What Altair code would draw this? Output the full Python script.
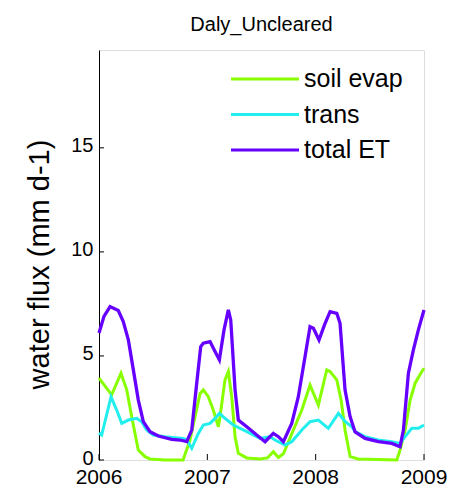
import altair as alt
import pandas as pd

# ---- data ----
series_names = ["soil evap", "trans", "total ET"]
series_colors = ["#88FF00", "#22EEEE", "#6600FF"]
x_tick_years = [2006, 2007, 2008, 2009]
y_tick_values = [0, 5, 10, 15]

soil_t = [2006.000, 2006.117, 2006.203, 2006.256, 2006.302, 2006.332, 2006.363, 2006.425,
          2006.471, 2006.609, 2006.776, 2006.840, 2006.886, 2006.933, 2006.963, 2007.009,
          2007.055, 2007.102, 2007.117, 2007.163, 2007.194, 2007.225, 2007.256, 2007.286,
          2007.364, 2007.487, 2007.554, 2007.609, 2007.656, 2007.702, 2007.794, 2007.872,
          2007.948, 2008.025, 2008.102, 2008.133, 2008.195, 2008.235, 2008.271, 2008.318,
          2008.394, 2008.749, 2008.779, 2008.826, 2008.872, 2008.918, 2008.980, 2009.000]
soil_v = [3.93, 3.13, 4.17, 3.37, 2.08, 1.28, 0.48, 0.16, 0.05, 0.0, 0.0, 0.96, 2.08, 3.2,
          3.37, 3.04, 2.4, 1.6, 2.08, 3.85, 4.25, 3.04, 1.12, 0.32, 0.1, 0.05, 0.1, 0.4, 0.12,
          0.3, 1.44, 2.4, 3.6, 2.64, 4.33, 4.25, 3.85, 2.88, 1.44, 0.16, 0.05, 0.0, 0.48, 1.44,
          2.88, 3.69, 4.25, 4.41]

trans_t = [2006.000, 2006.025, 2006.111, 2006.163, 2006.210, 2006.271, 2006.348, 2006.394,
           2006.440, 2006.501, 2006.609, 2006.778, 2006.810, 2006.856, 2006.917, 2006.963,
           2007.025, 2007.071, 2007.111, 2007.163, 2007.240, 2007.364, 2007.487, 2007.579,
           2007.625, 2007.717, 2007.779, 2007.872, 2007.948, 2008.025, 2008.117, 2008.210,
           2008.271, 2008.333, 2008.364, 2008.456, 2008.579, 2008.703, 2008.779, 2008.826,
           2008.887, 2008.948, 2009.000]
trans_v = [1.3, 1.2, 3.04, 2.4, 1.76, 1.92, 2.0, 1.84, 1.44, 1.2, 1.12, 1.04, 0.96, 0.56,
           1.28, 1.68, 1.76, 2.0, 2.24, 2.0, 1.68, 1.36, 1.04, 1.12, 0.96, 0.72, 0.88, 1.44,
           1.84, 1.92, 1.52, 2.24, 1.85, 1.6, 1.36, 1.12, 0.96, 0.88, 0.8, 1.12, 1.52, 1.52, 1.68]

et_t = [2006.000, 2006.046, 2006.102, 2006.178, 2006.224, 2006.271, 2006.317, 2006.363,
        2006.409, 2006.471, 2006.548, 2006.671, 2006.748, 2006.810, 2006.856, 2006.902,
        2006.939, 2006.963, 2007.025, 2007.071, 2007.111, 2007.154, 2007.194, 2007.216,
        2007.256, 2007.286, 2007.364, 2007.456, 2007.533, 2007.609, 2007.656, 2007.702,
        2007.779, 2007.840, 2007.902, 2007.948, 2007.979, 2008.031, 2008.087, 2008.133,
        2008.195, 2008.225, 2008.271, 2008.318, 2008.364, 2008.456, 2008.579, 2008.703,
        2008.779, 2008.810, 2008.856, 2008.902, 2008.948, 2009.000]
et_v = [6.1, 6.9, 7.37, 7.18, 6.65, 5.77, 4.33, 2.88, 1.84, 1.36, 1.15, 0.99, 0.96, 0.88,
        1.44, 3.69, 5.45, 5.61, 5.69, 5.21, 4.81, 6.25, 7.21, 6.73, 3.37, 1.92, 1.6, 1.2,
        0.88, 1.28, 1.12, 0.88, 1.76, 3.04, 4.97, 6.41, 6.33, 5.77, 6.57, 7.13, 7.05, 6.57,
        3.37, 2.08, 1.35, 1.04, 0.88, 0.8, 0.64, 1.44, 4.17, 5.29, 6.25, 7.21]

# ---- layout ----
W, H = 325, 410
X_DOM = [2006, 2009]
Y_DOM = [0, 19.7]
FONT = "Liberation Sans"

xs = alt.Scale(domain=X_DOM, nice=False, zero=False)
ys = alt.Scale(domain=Y_DOM, nice=False, zero=True)
cs = alt.Scale(domain=series_names, range=series_colors)

x_axis = alt.Axis(values=x_tick_years, labels=False, title=None, grid=False, tickSize=0,
                  domainColor="black")
y_axis = alt.Axis(values=y_tick_values, title="water flux (mm d-1)", grid=False, tickSize=0,
                  labelFontSize=20, labelPadding=6, labelOffset=-2, titleFontSize=29,
                  titleFontWeight="normal", titlePadding=16, titleY=214, domainColor="black",
                  labelColor="black", titleColor="black")


def line_layer(t, v, name, width=3):
    df = pd.DataFrame({"t": t, "v": v, "series": name})
    return alt.Chart(df).mark_line(strokeWidth=width).encode(
        x=alt.X("t:Q", scale=xs, axis=None),
        y=alt.Y("v:Q", scale=ys, axis=None),
        color=alt.Color("series:N", scale=cs, legend=None),
    )


soil = line_layer(soil_t, soil_v, "soil evap")
trans = line_layer(trans_t, trans_v, "trans")
et = line_layer(et_t, et_v, "total ET", width=3.3)

# inward ticks (MATLAB style); these layers also carry the axes
ytick_layer = alt.Chart(pd.DataFrame({"v": y_tick_values})).mark_rule(
    color="black", strokeWidth=1).encode(
    y=alt.Y("v:Q", scale=ys, axis=y_axis), x=alt.value(0), x2=alt.value(5))
xtick_df = pd.DataFrame({"t": x_tick_years, "label": [str(y) for y in x_tick_years]})
xtick_layer = alt.Chart(xtick_df).mark_rule(color="black", strokeWidth=1).encode(
    x=alt.X("t:Q", scale=xs, axis=x_axis), y=alt.value(H), y2=alt.value(H - 6))
xlabel_layer = alt.Chart(xtick_df).mark_text(
    align="center", baseline="top", fontSize=21, color="black", font=FONT).encode(
    x=alt.X("t:Q", scale=xs, axis=None), y=alt.value(H + 7), text="label:N")

# legend
leg_df = pd.DataFrame({"series": series_names})
leg_y = alt.Y("series:N", sort=series_names, axis=None,
              scale=alt.Scale(type="point", range=[29, 100], padding=0))
leg_rule = alt.Chart(leg_df).mark_rule(strokeWidth=3).encode(
    y=leg_y, x=alt.value(132), x2=alt.value(200),
    color=alt.Color("series:N", scale=cs, legend=None))
leg_text = alt.Chart(leg_df).mark_text(align="left", baseline="middle", fontSize=25,
                                       color="black", font=FONT).encode(
    y=leg_y, x=alt.value(205), text="series:N")

chart = alt.layer(soil, trans, et, ytick_layer, xtick_layer, xlabel_layer,
                  leg_rule, leg_text).resolve_scale(
    y="independent"
).properties(
    width=W, height=H,
    title=alt.TitleParams("Daly_Uncleared", fontSize=20, fontWeight="normal", font=FONT,
                          color="black", anchor="middle", offset=15),
    autosize=alt.AutoSizeParams(type="none"),
    padding={"left": 91, "top": 42, "right": 38, "bottom": 36},
).configure_view(stroke=None).configure(font=FONT)

chart.save("out.html", embed_options={"renderer": "svg", "actions": False})
